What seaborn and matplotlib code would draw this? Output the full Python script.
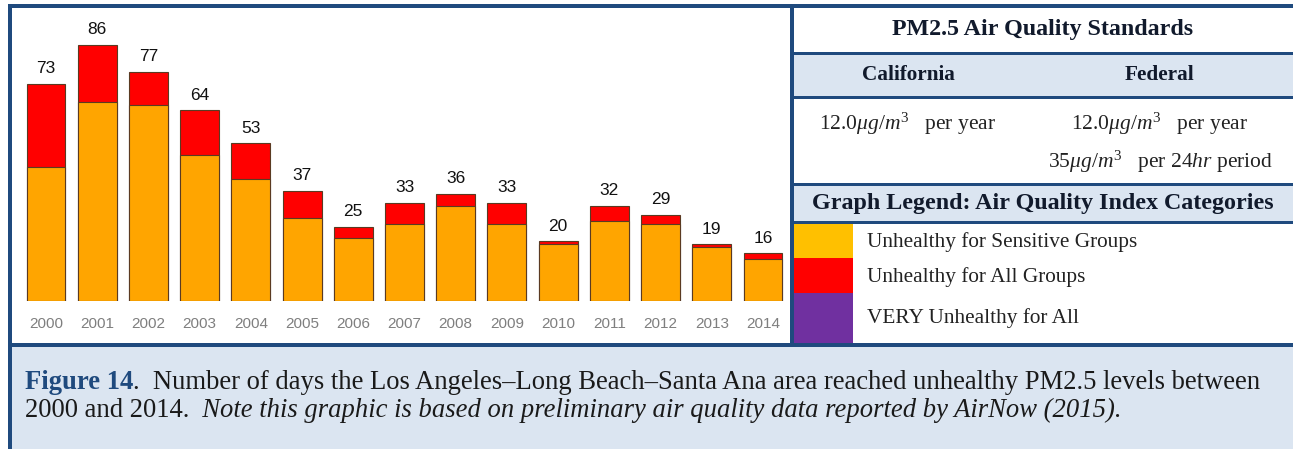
import matplotlib
matplotlib.use("Agg")
import matplotlib.pyplot as plt
import seaborn as sns
import pandas as pd
from matplotlib.patches import Rectangle

# Data
years = [str(y) for y in range(2000, 2015)]
total_days = [73, 86, 77, 64, 53, 37, 25, 33, 36, 33, 20, 32, 29, 19, 16]
sensitive_days = [45, 67, 66, 49, 41, 28, 21, 26, 32, 26, 19, 27, 26, 18, 14]

legend_labels = ["Unhealthy for Sensitive Groups", "Unhealthy for All Groups", "VERY Unhealthy for All"]
legend_colors = ["#FFC000", "#FF0000", "#7030A0"]

NAVY = "#1F4A7E"
PALE = "#DBE5F1"
INK = "#111A2C"
W, H = 1293, 449
SERIF = "Liberation Serif"

sns.set_theme(style="white")
plt.rcParams["font.family"] = ["Liberation Sans", "DejaVu Sans"]
plt.rcParams["mathtext.fontset"] = "custom"
plt.rcParams["mathtext.rm"] = "Liberation Serif"
plt.rcParams["mathtext.it"] = "Liberation Serif:italic"
plt.rcParams["mathtext.bf"] = "Liberation Serif:bold"

fig = plt.figure(figsize=(W / 100, H / 100), dpi=100)


def px(x0, y0, x1, y1):
    # pixel box (top-left origin) -> figure fraction
    return [x0 / W, 1 - y1 / H, (x1 - x0) / W, (y1 - y0) / H]


# =========================
# Stacked bar chart
# =========================
ymax = 90
unit = 2.977  # px per day
ax = fig.add_axes(px(20.4, 301 - ymax * unit, 788.6, 301))
df = pd.DataFrame({"year": years, "total": total_days, "sensitive": sensitive_days})

sns.barplot(data=df, x="year", y="total", color="#FF0000", saturation=1, width=0.76,
            edgecolor="#5a3a22", linewidth=0.8, errorbar=None, ax=ax)
sns.barplot(data=df, x="year", y="sensitive", color="#FFA500", saturation=1, width=0.76,
            edgecolor="#5a3a22", linewidth=0.8, errorbar=None, ax=ax)

ax.set_xlim(-0.5, 14.5)
ax.set_ylim(0, ymax)
for i, v in enumerate(total_days):
    ax.text(i, v + 3.6, str(v), ha="center", va="baseline", fontsize=12.5, color="#111111")

ax.set_yticks([])
ax.set_xlabel("")
ax.set_ylabel("")
ax.tick_params(axis="x", length=0, pad=11.5, labelsize=11, labelcolor="#7f7f7f")
sns.despine(ax=ax, left=True, bottom=True)
ax.patch.set_visible(False)

# =========================
# Frame, table and caption
# =========================
ov = fig.add_axes([0, 0, 1, 1], zorder=5)
ov.set_xlim(0, W)
ov.set_ylim(H, 0)
ov.axis("off")
ov.patch.set_visible(False)


def box(x0, y0, x1, y1, c):
    ov.add_patch(Rectangle((x0, y0), x1 - x0, y1 - y0, facecolor=c, edgecolor="none", lw=0))


box(794, 55, W, 96, PALE)
box(794, 186, W, 221, PALE)
box(12, 347, W, H, PALE)
sw_y = [224, 258, 293, 343]
for k, c in enumerate(legend_colors):
    box(794, sw_y[k], 853, sw_y[k + 1], c)

box(8, 4, W, 8, NAVY)
box(8, 4, 12, H, NAVY)
box(790, 4, 794, 347, NAVY)
for y0 in [52, 96, 183, 221]:
    box(794, y0, W, y0 + 3, NAVY)
box(8, 343, W, 347, NAVY)

ov.text(1043, 30, "PM2.5 Air Quality Standards", family=SERIF, weight="bold", size=17.3,
        ha="center", va="center", color=INK)
ov.text(908, 75, "California", family=SERIF, weight="bold", size=15.3, ha="center", va="center", color=INK)
ov.text(1160, 75, "Federal", family=SERIF, weight="bold", size=15.3, ha="center", va="center", color=INK)
ov.text(908, 124, r"12.0$\mu g/m^3$   per year", family=SERIF, size=15.5, ha="center", va="center", color="#222222")
ov.text(1160, 124, r"12.0$\mu g/m^3$   per year", family=SERIF, size=15.5, ha="center", va="center", color="#222222")
ov.text(1160, 162, r"35$\mu g/m^3$   per 24$hr$ period", family=SERIF, size=15.5, ha="center", va="center", color="#222222")
ov.text(1043, 204, "Graph Legend: Air Quality Index Categories", family=SERIF, weight="bold", size=17.3,
        ha="center", va="center", color=INK)
for k, lab in enumerate(legend_labels):
    ov.text(867, [242, 277, 318][k], lab, family=SERIF, size=15.3, ha="left", va="center", color="#222222")

# caption: pieces of mixed style laid out one after the other
renderer = fig.canvas.get_renderer()
cap_lines = [
    (389, [("Figure 14", "bold", "normal", NAVY),
           (".  Number of days the Los Angeles\u2013Long Beach\u2013Santa Ana area reached unhealthy PM2.5 levels between",
            "normal", "normal", "#1a1a1a")]),
    (417, [("2000 and 2014.", "normal", "normal", "#1a1a1a"),
           ("  Note this graphic is based on preliminary air quality data reported by AirNow (2015).",
            "normal", "italic", "#1a1a1a")]),
]
for yb, pieces in cap_lines:
    x = 25
    for txt, wt, st, col in pieces:
        t = ov.text(x, yb, txt, family=SERIF, weight=wt, style=st, size=19.2, color=col,
                    ha="left", va="baseline")
        x += t.get_window_extent(renderer).width

fig.savefig("out.png", dpi=100)
